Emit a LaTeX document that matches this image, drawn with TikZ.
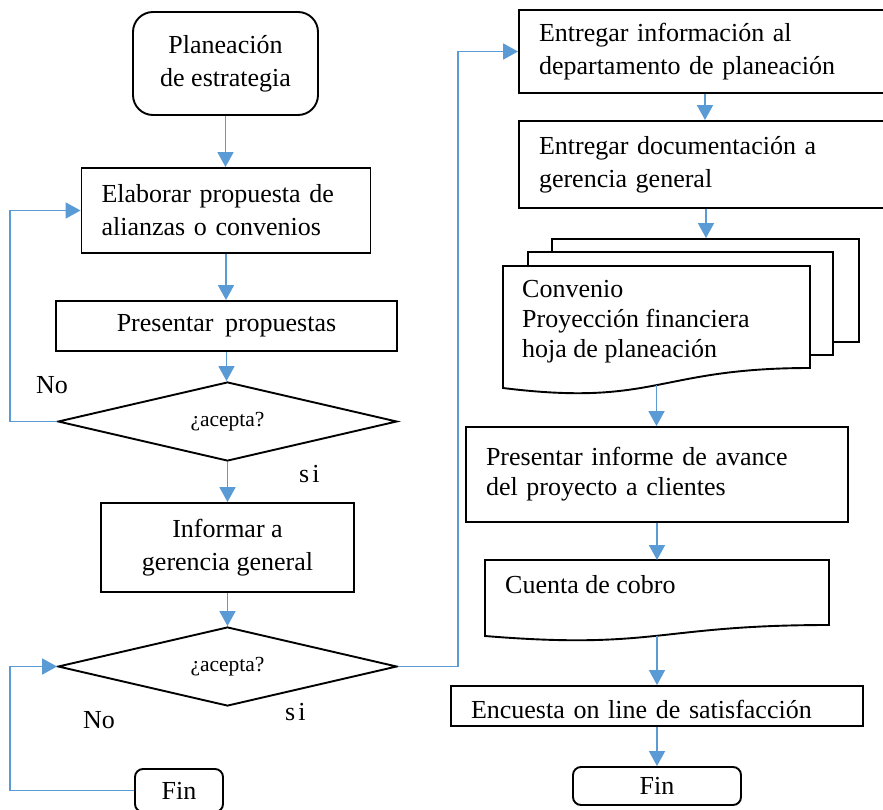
\documentclass[tikz,border=0pt]{standalone}
\usepackage{fontspec}
\setmainfont{Liberation Serif}
\usetikzlibrary{shapes.geometric,arrows.meta}
\definecolor{flowblue}{HTML}{5B9BD5}
\begin{document}
\begin{tikzpicture}[x=1pt,y=-1pt,
  every node/.style={inner sep=0pt, font=\fontsize{26}{33}\selectfont},
  outline/.style={draw=black, line width=1.9pt, fill=white},
  box/.style={outline},
  lbox/.style={outline, align=left, inner xsep=20pt, text width=#1},
  term/.style={outline, rounded corners=#1},
  choice/.style={draw=black, line width=1.9pt, fill=white, diamond, aspect=4.3,
    minimum width=339pt, minimum height=79pt, font=\fontsize{21.5}{25}\selectfont},
  flow/.style={draw=flowblue, line width=1.8pt, -{Triangle[width=16pt,length=15pt]}},
  answer/.style={anchor=base west},
]
\useasboundingbox (0,0) rectangle (883,809);

% rails used by the loop-back and "si" connectors
\coordinate (leftrail) at (10,0);
\coordinate (midrail) at (458,0);

% ---------- left column ----------
\node[term=20pt, minimum width=185pt, minimum height=103pt, align=center] (plan) at (225.5,63.5) {Planeación\\de estrategia};
\node[lbox=249pt, minimum height=85pt] (elab) at (226,210.5) {Elaborar propuesta de\\alianzas o convenios};
\node[box, minimum width=341pt, minimum height=50pt] (pres) at (226.5,326) {Presentar\kern5pt\ propuestas};
\node[choice] (d1) at (227.5,421.5) {¿acepta?};
\node[box, minimum width=253pt, minimum height=89pt, align=center] (inf) at (227.5,547.5) {Informar a\\gerencia general};
\node[choice] (d2) at (227.5,666.5) {¿acepta?};
\node[term=8pt, minimum width=88pt, minimum height=43pt] (fin1) at (179,790.5) {Fin};

\node[answer] (no1) at (36,393) {No};
\node[answer] (si1) at (299,482) {s\kern3pt i};
\node[answer] (no2) at (83,728) {No};
\node[answer] (si2) at (285,720) {s\kern3pt i};

% ---------- right column ----------
\node[lbox=332pt, minimum height=83pt] (ent1) at (705,51.5) {Entregar información al\\departamento de planeación};
\node[lbox=334pt, minimum height=87pt] (ent2) at (706,164.5) {Entregar documentación a\\gerencia general};

% stacked documents
\node[box, minimum width=307pt, minimum height=103pt] (sheet3) at (705.5,290.5) {};
\node[box, minimum width=305pt, minimum height=103pt] (sheet2) at (680.5,303.5) {};
\draw[outline] (503,266) -- (810,266) -- (810,368)
  .. controls (656.5,368) and (656.5,407) .. (503,388) -- cycle;
\coordinate (sheet1out) at (656.5,385);
\node[anchor=north west, align=left, font=\fontsize{26}{30}\selectfont] (sheet1txt) at (522,280)
  {Convenio\\Proyección financiera\\hoja de planeación};

\node[lbox=342pt, minimum height=95pt, font=\fontsize{26}{30}\selectfont] (pinf) at (657,474.5)
  {Presentar informe de avance\\del proyecto a clientes};

% single document
\draw[outline] (485,560) -- (829,560) -- (829,625)
  .. controls (657,625) and (657,650) .. (485,636) -- cycle;
\coordinate (cuentain) at (657,560);
\coordinate (cuentaout) at (657,635.7);
\node[anchor=base west] (cuentatxt) at (505,593) {Cuenta de cobro};

\node[lbox=372pt, minimum height=40pt, text height=24pt, text depth=0pt] (enc) at (657,706) {Encuesta on line de satisfacción};
\node[term=8pt, minimum width=168pt, minimum height=38pt] (fin2) at (657,786) {Fin};

% ---------- connectors ----------
\draw[flow] (plan.south) -- (plan.south |- elab.north);
\draw[flow] (elab.south) -- (elab.south |- pres.north);
\draw[flow] (pres.south) -- (pres.south |- d1.north);
\draw[flow] (d1.west) -- (d1.west -| leftrail) |- (elab.west);
\draw[flow] (d1.south) -- (inf.north);
\draw[flow] (inf.south) -- (d2.north);
\draw[flow] (fin1.west) -- (fin1.west -| leftrail) |- (d2.west);
\draw[flow] (d2.east) -- (d2.east -| midrail) |- (ent1.west);
\draw[flow] (ent1.south) -- (ent1.south |- ent2.north);
\draw[flow] (ent2.south) -- (ent2.south |- sheet3.north);
\draw[flow] (sheet1out) -- (sheet1out |- pinf.north);
\draw[flow] (pinf.south) -- (pinf.south |- cuentain);
\draw[flow] (cuentaout) -- (cuentaout |- enc.north);
\draw[flow] (enc.south) -- (fin2.north);
\end{tikzpicture}
\end{document}
